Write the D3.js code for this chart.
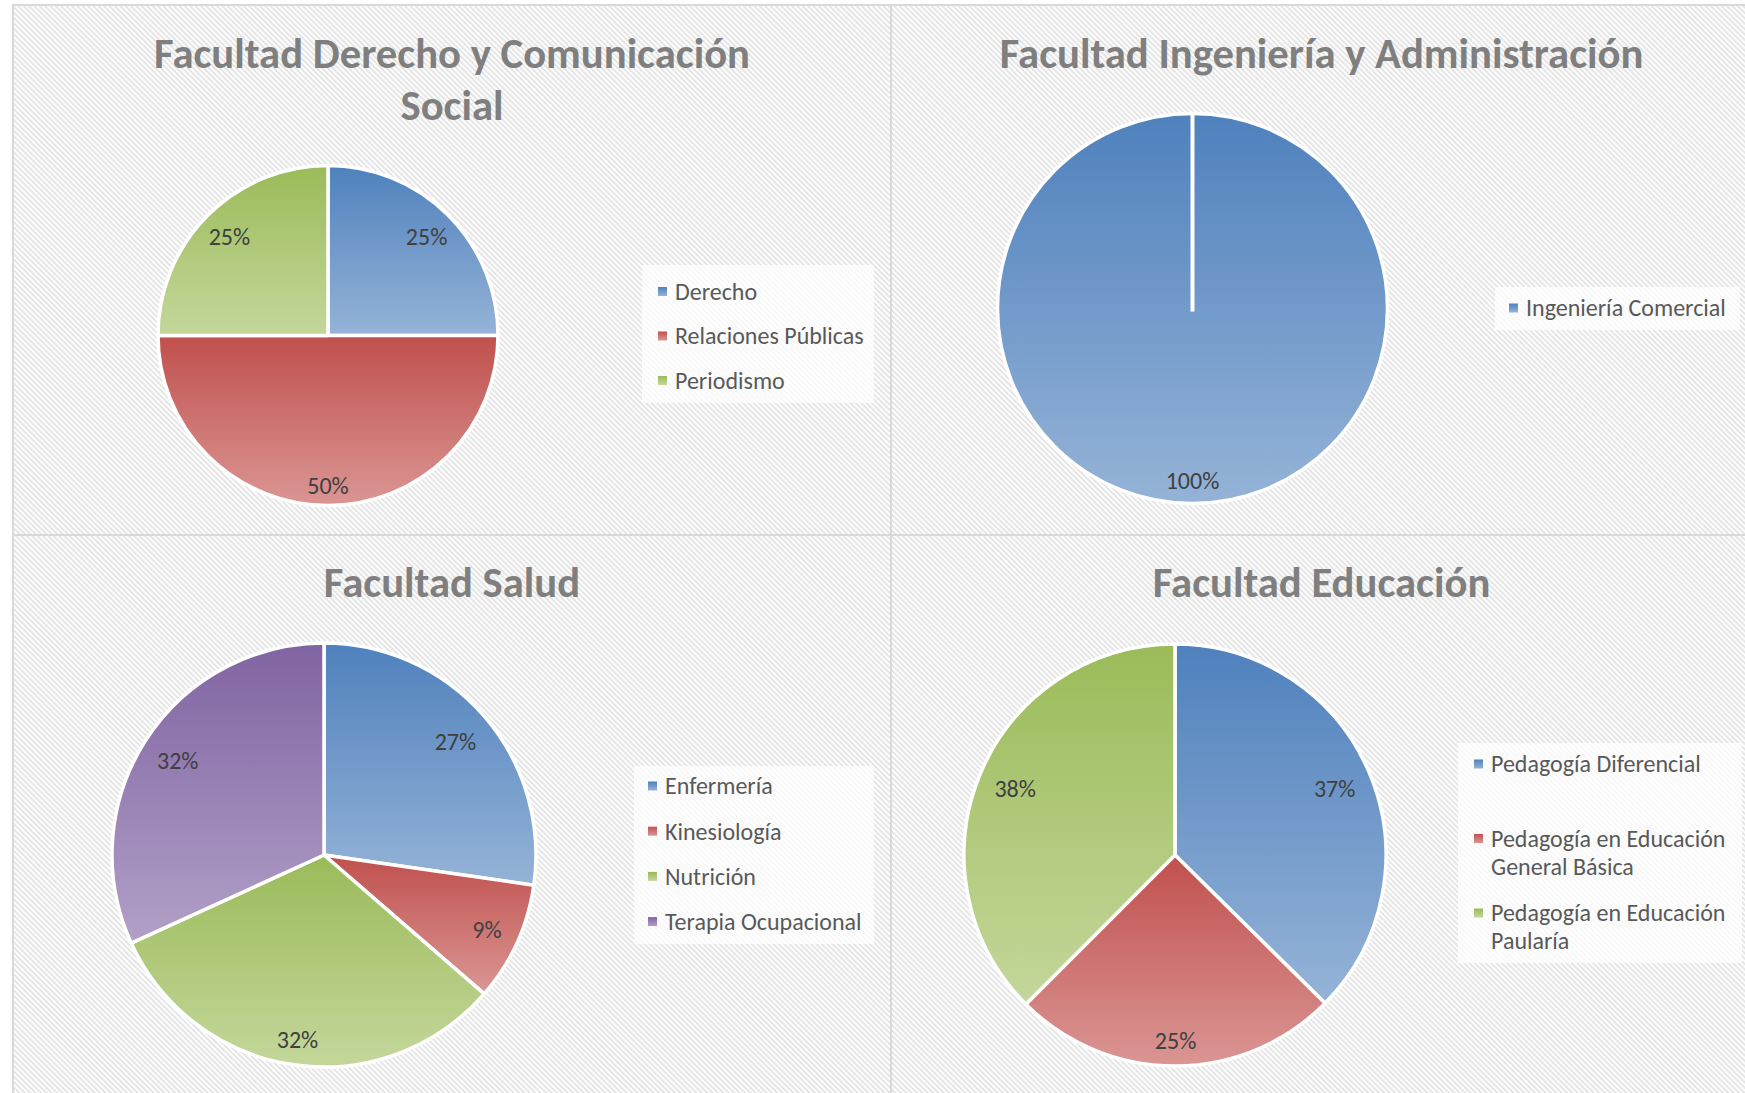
<!DOCTYPE html>
<html>
<head>
<meta charset="utf-8">
<script src="https://cdn.jsdelivr.net/npm/d3@7"></script>
<style>
  body { margin: 0; background: #fff; }
  svg { display: block; font-family: Carlito, Calibri, Lato, sans-serif; }
</style>
</head>
<body>
<div id="chart"></div>
<script>
// data
const derechoTitle = ["Facultad Derecho y Comunicación", "Social"];
const derechoCats = ["Derecho", "Relaciones Públicas", "Periodismo"];
const derechoVals = [1, 2, 1];

const ingTitle = ["Facultad Ingeniería y Administración"];
const ingCats = ["Ingeniería Comercial"];
const ingVals = [1];

const saludTitle = ["Facultad Salud"];
const saludCats = ["Enfermería", "Kinesiología", "Nutrición", "Terapia Ocupacional"];
const saludVals = [6, 2, 7, 7];

const eduTitle = ["Facultad Educación"];
const eduCats = ["Pedagogía Diferencial", "Pedagogía en Educación General Básica", "Pedagogía en Educación Paularía"];
const eduVals = [37.4, 25.1, 37.5];

const baseColors = ["#4F81BD", "#C0504D", "#9BBB59", "#8064A2"];
const lightColors = ["#95B3D7", "#DA9694", "#C4D79B", "#B1A0C7"];

const W = 1745, H = 1093;

const panels = [
  { title: derechoTitle, cats: derechoCats, vals: derechoVals,
    box: [13, 5, 878, 530], cx: 328, cy: 335.5, r: 170, tx: 452, ty: 53,
    legend: { x: 642, y: 265, w: 232, h: 138, mx: 658, y0: 291.5, step: 44.5 } },
  { title: ingTitle, cats: ingCats, vals: ingVals,
    box: [891, 5, 870, 530], cx: 1192.5, cy: 308.5, r: 195, tx: 1321.5, ty: 53,
    legend: { x: 1495, y: 287, w: 245, h: 43, mx: 1509, y0: 308, step: 44 } },
  { title: saludTitle, cats: saludCats, vals: saludVals,
    box: [13, 535, 878, 600], cx: 324, cy: 855, r: 212, tx: 452, ty: 582,
    legend: { x: 634, y: 766, w: 240, h: 178, mx: 648, y0: 786, step: 45.2 } },
  { title: eduTitle, cats: eduCats, vals: eduVals,
    box: [891, 535, 870, 600], cx: 1175, cy: 855, r: 211, tx: 1321.5, ty: 582,
    legend: { x: 1458, y: 743, w: 284, h: 220, mx: 1474, y0: 764, step: 74.5, wrap: 268 } }
];

const svg = d3.select("#chart").append("svg")
  .attr("width", W)
  .attr("height", H);

const defs = svg.append("defs");

// diagonal hatch background
const pat = defs.append("pattern")
  .attr("id", "stripes")
  .attr("patternUnits", "userSpaceOnUse")
  .attr("width", 3.8).attr("height", 3.8)
  .attr("patternTransform", "rotate(-45)");
pat.append("rect").attr("width", 3.8).attr("height", 3.8).attr("fill", "#fdfdfd");
pat.append("rect").attr("width", 1.9).attr("height", 3.8).attr("fill", "#e5e5e5");

baseColors.forEach((c, i) => {
  const g = defs.append("linearGradient")
    .attr("id", "grad" + i)
    .attr("x1", 0).attr("y1", 0).attr("x2", 0).attr("y2", 1);
  g.append("stop").attr("offset", "0%").attr("stop-color", c);
  g.append("stop").attr("offset", "100%").attr("stop-color", lightColors[i]);
});

const pct = d3.format(".0%");
const pie = d3.pie().sort(null).value(d => d);

panels.forEach(p => {
  const g = svg.append("g");
  const [bx, by, bw, bh] = p.box;

  g.append("rect")
    .attr("x", bx).attr("y", by)
    .attr("width", bw).attr("height", bh)
    .attr("fill", "url(#stripes)");

  // title
  const title = g.append("text")
    .attr("x", p.tx).attr("y", p.ty)
    .attr("text-anchor", "middle")
    .attr("font-size", 42.7)
    .attr("font-weight", "bold")
    .attr("fill", "#7f7f7f");
  p.title.forEach((line, i) => {
    title.append("tspan")
      .attr("x", p.tx)
      .attr("y", p.ty + i * 52)
      .attr("dy", "0.35em")
      .text(line);
  });

  // pie
  const total = d3.sum(p.vals);
  const arcs = pie(p.vals);
  const arc = d3.arc().innerRadius(0).outerRadius(p.r);
  const pg = g.append("g").attr("transform", "translate(" + p.cx + "," + p.cy + ")");

  pg.selectAll("path.slice")
    .data(arcs)
    .enter()
    .append("path")
    .attr("class", "slice")
    .attr("d", arc)
    .attr("fill", (d, i) => "url(#grad" + i + ")")
    .attr("stroke", "#fff")
    .attr("stroke-width", 3.5)
    .attr("stroke-linejoin", "round");

  // a full circle slice still shows its start edge
  arcs.filter(d => d.endAngle - d.startAngle > 2 * Math.PI - 1e-6).forEach(d => {
    pg.append("line")
      .attr("x1", 0).attr("y1", 3)
      .attr("x2", p.r * Math.sin(d.startAngle))
      .attr("y2", -p.r * Math.cos(d.startAngle))
      .attr("stroke", "#fff")
      .attr("stroke-width", 4);
  });

  pg.selectAll("text.lbl")
    .data(arcs)
    .enter()
    .append("text")
    .attr("class", "lbl")
    .attr("transform", d => {
      const a = (d.startAngle + d.endAngle) / 2;
      const k = 0.82 + 0.06 * Math.max(0, -Math.cos(a));
      return "translate(" + (p.r * k * Math.sin(a)) + "," + (-p.r * k * Math.cos(a)) + ")";
    })
    .attr("dy", "0.35em")
    .attr("text-anchor", "middle")
    .attr("font-size", 24)
    .attr("fill", "#404040")
    .text(d => pct(d.value / total));

  // legend
  const L = p.legend;
  g.append("rect")
    .attr("x", L.x).attr("y", L.y)
    .attr("width", L.w).attr("height", L.h)
    .attr("fill", "#fff")
    .attr("fill-opacity", 0.72);

  const items = g.selectAll("g.item")
    .data(p.cats)
    .enter()
    .append("g")
    .attr("class", "item")
    .attr("transform", (d, i) => "translate(" + L.mx + "," + (L.y0 + i * L.step) + ")");

  items.append("rect")
    .attr("x", 0).attr("y", -4.5)
    .attr("width", 9).attr("height", 9)
    .attr("fill", (d, i) => "url(#grad" + i + ")");

  items.append("text")
    .attr("x", 17)
    .attr("font-size", 24)
    .attr("fill", "#595959")
    .each(function (d) {
      const t = d3.select(this);
      const words = d.split(" ");
      let line = [];
      let n = 0;
      let ts = t.append("tspan").attr("x", 17).attr("y", 0).attr("dy", "0.35em");
      words.forEach(w => {
        line.push(w);
        ts.text(line.join(" "));
        if (L.wrap && line.length > 1 && ts.node().getComputedTextLength() > L.wrap) {
          line.pop();
          ts.text(line.join(" "));
          line = [w];
          n++;
          ts = t.append("tspan").attr("x", 17).attr("y", n * 28).attr("dy", "0.35em").text(w);
        }
      });
    });
});

// chart frames
svg.append("g").selectAll("rect")
  .data(panels)
  .enter()
  .append("rect")
  .attr("x", d => d.box[0]).attr("y", d => d.box[1])
  .attr("width", d => d.box[2]).attr("height", d => d.box[3])
  .attr("fill", "none")
  .attr("stroke", "#d9d9d9")
  .attr("stroke-width", 2);
</script>
</body>
</html>
